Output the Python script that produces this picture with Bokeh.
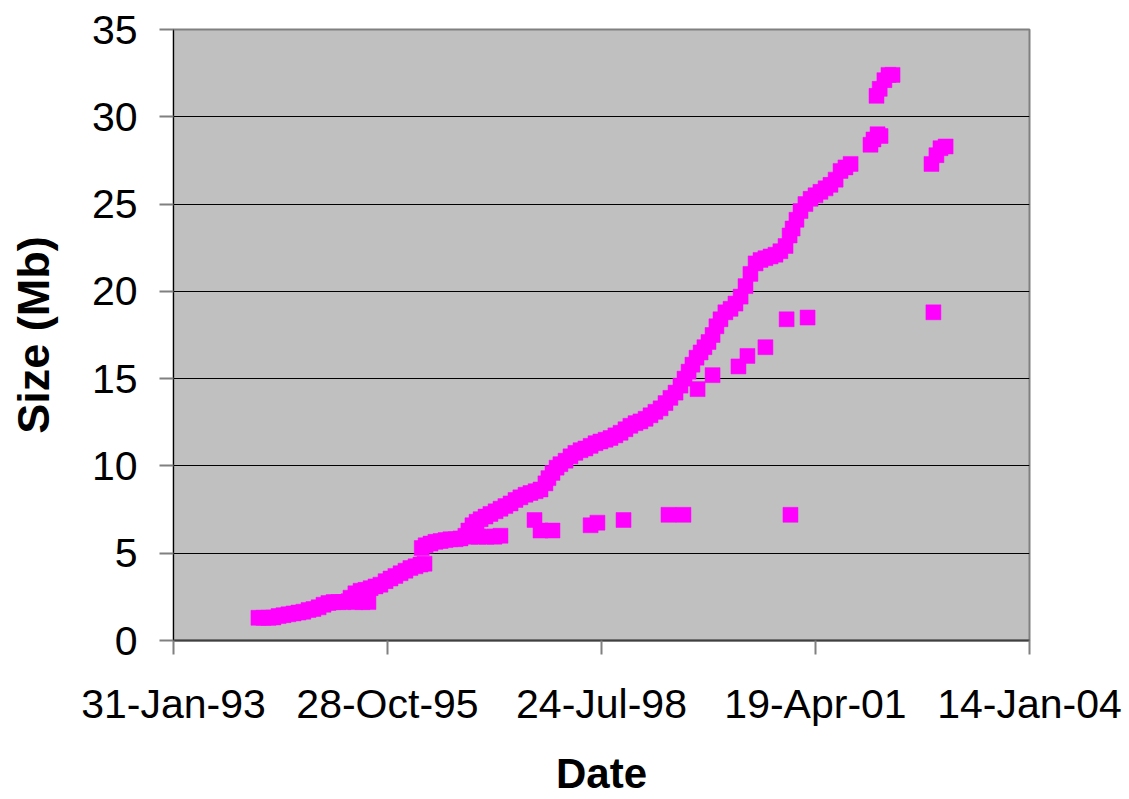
from datetime import datetime, timedelta
from bokeh.plotting import figure
from bokeh.models import FixedTicker, DatetimeTickFormatter, Range1d
from bokeh.embed import file_html
from bokeh.resources import INLINE

# Dates are Excel serial day numbers (as in the source workbook)
main_serial = [
    34397, 34421, 34444, 34467, 34491, 34514, 34537, 34561, 34584, 34607,
    34631, 34654, 34678, 34701, 34724, 34748, 34771, 34794, 34818, 34827,
    34850, 34874, 34897, 34921, 34944, 34967, 34991, 35014, 35037, 35061,
    35084, 35107, 35131, 35154, 35173, 35160, 35178, 35201, 35224, 35248,
    35271, 35294, 35318, 35341, 35364, 35378, 35397, 35416, 35435, 35458,
    35481, 35505, 35528, 35551, 35575, 35598, 35621, 35645, 35668, 35692,
    35715, 35738, 35752, 35771, 35790, 35808, 35832, 35855, 35878, 35902,
    35925, 35949, 35972, 35995, 36019, 36042, 36065, 36089, 36112, 36135,
    36159, 36182, 36206, 36229, 36252, 36276, 36299, 36322, 36346, 36369,
    36388, 36407, 36425, 36444, 36463, 36481, 36500, 36519, 36537, 36556,
    36579, 36603, 36626, 36650, 36673, 36696, 36720, 36743, 36766, 36790,
    36813, 36836, 36860, 36879, 36893, 36911, 36930, 36953, 36977, 37000,
    37023, 37047, 37070, 37094, 37117, 37140, 37164,
    37257, 37271, 37290, 37304, 37285, 37300, 37322, 37341, 37360,
    37542, 37565, 37584, 37608,
]
main_size = [
    1.30, 1.30, 1.30, 1.32, 1.40, 1.45, 1.50, 1.55, 1.60, 1.65,
    1.75, 1.80, 1.90, 2.05, 2.15, 2.20, 2.20, 2.20, 2.25, 2.45,
    2.70, 2.85, 2.90, 3.00, 3.10, 3.20, 3.40, 3.55, 3.70, 3.85,
    4.00, 4.15, 4.25, 4.35, 4.40, 5.30, 5.45, 5.55, 5.65, 5.70,
    5.75, 5.80, 5.80, 5.85, 6.00, 6.30, 6.60, 6.80, 6.95, 7.10,
    7.25, 7.40, 7.55, 7.70, 7.85, 8.05, 8.20, 8.35, 8.45, 8.55,
    8.65, 9.00, 9.30, 9.60, 9.90, 10.10, 10.30, 10.55, 10.75, 10.90,
    11.00, 11.15, 11.30, 11.40, 11.50, 11.60, 11.75, 11.90, 12.10, 12.30,
    12.45, 12.55, 12.70, 12.90, 13.10, 13.30, 13.60, 13.90, 14.20, 14.60,
    15.00, 15.40, 15.80, 16.20, 16.50, 16.80, 17.10, 17.50, 18.00, 18.40,
    18.80, 19.00, 19.30, 19.70, 20.30, 21.00, 21.60, 21.80, 21.90, 22.00,
    22.10, 22.30, 22.60, 23.20, 23.60, 24.10, 24.60, 25.00, 25.30, 25.50,
    25.70, 25.90, 26.10, 26.40, 26.90, 27.10, 27.30,
    28.40, 28.70, 29.00, 28.90, 31.20, 31.60, 32.10, 32.40, 32.40,
    27.30, 27.80, 28.20, 28.30,
]

# Points lying below the main growth curve
low_serial = [
    34850, 34883, 34911,
    35388, 35425, 35463, 35500, 35528,
    35687, 35715, 35771, 35949, 35981, 36103, 36313, 36383, 36883,
    36449, 36519, 36640, 36682, 36766, 36865, 36963, 37551,
]
low_size = [
    2.20, 2.20, 2.20,
    5.95, 5.95, 5.95, 5.95, 6.00,
    6.90, 6.30, 6.30, 6.60, 6.75, 6.90, 7.20, 7.20, 7.20,
    14.40, 15.20, 15.70, 16.30, 16.80, 18.40, 18.50, 18.80,
]

x_tick_serial = [34000, 35000, 36000, 37000, 38000]
y_ticks = [0, 5, 10, 15, 20, 25, 30, 35]

EXCEL_EPOCH = datetime(1899, 12, 30)
UNIX_EPOCH = datetime(1970, 1, 1)


def to_dt(s):
    return EXCEL_EPOCH + timedelta(days=s)


def to_ms(s):
    return (to_dt(s) - UNIX_EPOCH).total_seconds() * 1000.0


x_all = [to_dt(s) for s in main_serial + low_serial]
y_all = main_size + low_size

p = figure(
    width=1129, height=799,
    x_axis_type="datetime",
    output_backend="svg", toolbar_location=None,
    x_range=Range1d(to_ms(x_tick_serial[0]), to_ms(x_tick_serial[-1])),
    y_range=Range1d(y_ticks[0], y_ticks[-1]),
    min_border_left=173, min_border_right=100,
    min_border_top=29, min_border_bottom=158,
    background_fill_color="#C0C0C0", border_fill_color="white",
)
p.outline_line_color = "#808080"
p.outline_line_width = 2

p.scatter(x_all, y_all, marker="square", size=15,
          fill_color="#FF00FF", line_color="#FF00FF", line_width=0.5)

p.xgrid.visible = False
p.ygrid.grid_line_color = "black"
p.ygrid.grid_line_width = 1

FONT = "Liberation Sans"

xa = p.xaxis[0]
xa.ticker = FixedTicker(ticks=[to_ms(s) for s in x_tick_serial])
xa.formatter = DatetimeTickFormatter(days="%d-%b-%y", months="%d-%b-%y",
                                     years="%d-%b-%y")
xa.axis_label = "Date"
xa.axis_label_text_font_size = "42px"

ya = p.yaxis[0]
ya.ticker = FixedTicker(ticks=y_ticks)
ya.axis_label = "Size (Mb)"
ya.axis_label_text_font_size = "45px"

for ax in (xa, ya):
    ax.axis_label_text_font = FONT
    ax.axis_label_text_font_style = "bold"
    ax.axis_label_text_color = "black"
    ax.major_label_text_font = FONT
    ax.major_label_text_font_size = "41px"
    ax.major_label_text_color = "black"
    ax.major_tick_in = 0
    ax.major_tick_out = 14
    ax.minor_tick_in = 0
    ax.minor_tick_out = 0
    ax.major_tick_line_color = "#808080"
    ax.major_tick_line_width = 2

ya.axis_line_color = "black"
ya.axis_line_width = 1
ya.major_label_standoff = 22
ya.axis_label_standoff = 30
xa.axis_line_color = "#404040"
xa.axis_line_width = 2
xa.major_label_standoff = 26
xa.axis_label_standoff = 20

open("out.html", "w").write(file_html(p, INLINE))
